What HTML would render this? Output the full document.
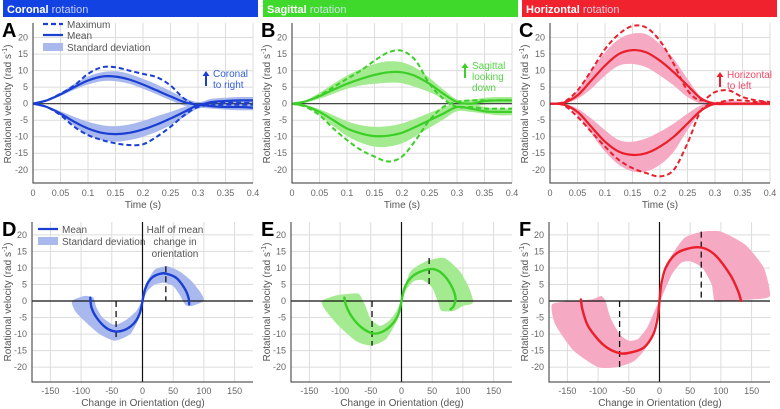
<!DOCTYPE html>
<html><head><meta charset="utf-8"><style>
body{margin:0;background:#fff}
svg{display:block;font-family:"Liberation Sans",sans-serif}
</style></head><body>
<svg id="fig" width="780" height="409" viewBox="0 0 780 409" xmlns="http://www.w3.org/2000/svg"></svg>
<script>
const T=[0,.025,.05,.075,.1,.125,.15,.175,.2,.225,.25,.275,.3,.325,.35,.375,.4];
// Coronal
const A_meanPos=[0,1,2.8,5,7,8.2,8.2,7.3,5.8,4,2.2,.5,-.3,.5,.8,1,1];
const A_maxPos=[0,1,3,5.5,9,11,11,10,9,8,5.5,1.5,-.5,0,.3,.3,.3];
const A_sdPosU=[0,1.2,3.3,6,8.2,9.5,9.8,9,7.5,5.8,3.8,1.8,.5,1.5,1.8,2,2];
const A_sdPosL=[0,.8,2.3,4.2,5.8,6.8,6.8,6,4.5,2.8,1,-.6,-1,-.5,-.2,0,0];
const A_meanNeg=[0,-1,-3,-5.5,-7.5,-8.8,-9.2,-8.8,-7.8,-6.3,-4.5,-2.5,-.5,-.8,-1,-1,-1.2];
const A_maxNeg=[0,-1,-3.5,-7,-9.5,-11,-12,-12.5,-12.3,-10,-7,-3.5,-1,-.5,-.3,-.3,-.3];
const A_sdNegU=[0,-.8,-2.3,-4,-5.5,-6.5,-6.8,-6.3,-5.2,-3.8,-2.5,-1,.3,0,0,0,0];
const A_sdNegL=[0,-1.2,-3.6,-6.8,-9.5,-11,-11.5,-11,-10,-8.5,-6.5,-4,-1.5,-1.5,-1.8,-2,-2];
// Sagittal
const B_meanPos=[0,.7,2.3,4.2,6,7.5,8.7,9.5,9.5,8.3,6,3,.5,0,.8,1,1];
const B_maxPos=[0,.7,2.5,5,7.5,10,13,15.5,16,13,6,1.5,-1,-1,-1.5,-1.5,-1.5];
const B_sdPosU=[0,1,3.3,6,8.5,10.5,12,12.8,12.5,10.8,7.8,4.3,1.3,1.2,1.8,2,2];
const B_sdPosL=[0,.4,1.5,3,4.5,5.5,6,6.3,6.2,5,3.5,1.5,-.5,-1,-.3,0,0];
const B_meanNeg=[0,-.7,-2.5,-5,-7.5,-9,-9.8,-9.7,-8.8,-7,-5,-3,-1,-1.5,-2.3,-2.5,-2.5];
const B_maxNeg=[0,-1,-3.5,-7.5,-11,-14,-16,-17.5,-16,-11,-5,-1,.5,1,1,1,1];
const B_sdNegU=[0,-.5,-1.7,-3.5,-5.3,-6.5,-7,-6.8,-6,-4.5,-2.8,-1.2,.3,0,-1,-1.5,-1.5];
const B_sdNegL=[0,-1,-3.5,-6.8,-9.8,-11.8,-13,-13,-12,-9.8,-7.3,-4.8,-2.3,-2.5,-3,-3.5,-3.5];
// Horizontal
const C_meanPos=[0,.3,2.5,7,11.5,15,16.2,15.5,13,9.5,5.5,1.5,0,0,0,0,0];
const C_maxPos=[0,.5,4,10,16.5,21,23.5,23,19,12,4,1,3.5,4,2,1,.5];
const C_sdPosU=[0,.5,4,10,15.5,19.5,21.2,21,18,13.5,7.5,2,.5,1,.5,.5,.5];
const C_sdPosL=[0,0,1.5,4.5,8.5,11.5,12,11,8.5,5.5,2,0,-.5,-.5,-.5,-.5,-.5];
const C_meanNeg=[0,-.3,-2.5,-7,-11.5,-14.5,-15.5,-15,-13,-10,-6,-2,0,0,0,0,0];
const C_maxNeg=[0,-.5,-4,-8.5,-13,-17,-19.5,-21,-22,-20,-12,-2,0,1,1,.5,.5];
const C_sdNegU=[0,0,-1.5,-4.5,-8,-11,-11.5,-10.5,-8.5,-6,-3,-.5,.5,.5,.5,.5,.5];
const C_sdNegL=[0,-.5,-3.5,-9,-14.5,-18.5,-20.5,-20.5,-18.5,-14.5,-8,-2.5,-.5,-.5,-.5,-.5,-.5];
// Phase plots (orientation deg, velocity)
const D_posX=[0,5,15,30,40,55,68,75,76], D_posY=[0,4,7,8.3,8.2,7,4,1,-1];
const D_negX=[0,-5,-15,-30,-45,-60,-75,-83,-85], D_negY=[0,-4,-7,-8.8,-9.2,-8,-5,-2,1];
const D_bandPosX=[0,5,20,40,60,80,95,100,80,70,60,50,35,20,8], D_bandPosY=[0,5,9.5,10.5,9,6,2.5,0,-1.5,-1.2,2,4.5,5.5,5,3];
const D_bandNegX=[0,-5,-20,-45,-70,-95,-110,-115,-95,-80,-75,-65,-50,-40,-25,-10], D_bandNegY=[0,-5,-10,-12,-10,-6,-3,0,1.5,1,-2,-5,-7,-7,-5.5,-3];
const D_half=[38,-43], D_halfTop=[10.5,0], D_halfBot=[0,-12];
const E_posX=[0,5,15,30,50,65,80,88,85,80], E_posY=[0,4,7,8.8,9.7,8.5,5,1,-1.5,-2.5];
const E_negX=[0,-5,-15,-30,-47,-65,-80,-90,-93], E_negY=[0,-4,-7,-9.2,-9.8,-8,-5,-1.5,1];
const E_bandPosX=[0,3,15,40,70,95,110,117,113,100,85,65,60,50,35,20,8], E_bandPosY=[0,3,9,12,13,9,4,0,-1,-1.5,-3,-3,-.5,4,6.3,6,3.5];
const E_bandNegX=[0,-5,-25,-50,-75,-105,-125,-130,-110,-95,-70,-60,-50,-35,-20,-8], E_bandNegY=[0,-5,-11.5,-13.5,-12,-7,-2.5,0,1.5,2,2.2,-1,-5.5,-7.5,-6,-3];
const E_half=[45,-48], E_halfTop=[13,0], E_halfBot=[4.5,-13.5];
const F_posX=[0,3,10,25,45,68,90,115,128,133], F_posY=[0,5,10,14,15.8,16.2,14,8,3,0];
const F_negX=[0,-3,-10,-25,-45,-65,-90,-115,-125,-128], F_negY=[0,-5,-10,-14,-15.5,-15.8,-13.5,-8,-3,.5];
const F_bandPosX=[0,15,40,70,100,140,170,180,150,110,90,85,70,50,35,20,8], F_bandPosY=[0,12,19,21,21,17,10,1.5,.5,0,0,5,10,12,11.5,8,3];
const F_bandNegX=[0,-15,-40,-70,-100,-140,-170,-175,-140,-110,-95,-88,-80,-65,-50,-35,-20,-8], F_bandNegY=[0,-12,-18,-20,-20,-15,-7,-1,0,.5,1.5,0,-5,-10,-12,-11.5,-8,-3];
const F_half=[68,-65], F_halfTop=[21,0], F_halfBot=[0,-21];
const yTicks=[-20,-15,-10,-5,0,5,10,15,20];
const tTicks=[0,.05,.1,.15,.2,.25,.3,.35,.4];
const tTickLabels=["0","0.05","0.1","0.15","0.2","0.25","0.3","0.35","0.4"];
const oTicks=[-150,-100,-50,0,50,100,150];

const svg=document.getElementById('fig');
const NS='http://www.w3.org/2000/svg';
function el(tag,attrs,parent,text){const e=document.createElementNS(NS,tag);for(const k in attrs)e.setAttribute(k,attrs[k]);if(text!==undefined)e.textContent=text;(parent||svg).appendChild(e);return e;}
function smooth(pts,closed,tension){
  if(pts.length<2)return '';
  const k=tension||6;
  let d='M'+pts[0][0].toFixed(1)+','+pts[0][1].toFixed(1);
  const n=pts.length;
  const g=i=>closed?pts[(i+n)%n]:pts[Math.max(0,Math.min(n-1,i))];
  const m=closed?n:n-1;
  for(let i=0;i<m;i++){const p0=g(i-1),p1=g(i),p2=g(i+1),p3=g(i+2);
    const c1=[p1[0]+(p2[0]-p0[0])/k,p1[1]+(p2[1]-p0[1])/k],c2=[p2[0]-(p3[0]-p1[0])/k,p2[1]-(p3[1]-p1[1])/k];
    d+='C'+c1.map(v=>v.toFixed(1))+' '+c2.map(v=>v.toFixed(1))+' '+p2.map(v=>v.toFixed(1));}
  return d+(closed?'Z':'');
}
const COL=[{line:'#1a3fd2',band:'#a9b9ee',hdr:'#1342e3',name:'Coronal',txt:['Coronal','to right'],txtc:'#3560dd'},
 {line:'#3ccf28',band:'#a3ea90',hdr:'#3fd92b',name:'Sagittal',txt:['Sagittal','looking','down'],txtc:'#55d444'},
 {line:'#ea1f2c',band:'#f5a9c2',hdr:'#f0222e',name:'Horizontal',txt:['Horizontal','to left'],txtc:'#ef4a6a'}];
const OX=[0,259,517];
const TOP={x0:33,x1:253,y0:23,y1:183,ymin:-24,ymax:24.4};
const BOT={x0:32,x1:253,y0:222,y1:382,ymin:-24.5,ymax:23.9,xmin:-180,xmax:180};
const topData=[[A_meanPos,A_maxPos,A_sdPosU,A_sdPosL,A_meanNeg,A_maxNeg,A_sdNegU,A_sdNegL],
 [B_meanPos,B_maxPos,B_sdPosU,B_sdPosL,B_meanNeg,B_maxNeg,B_sdNegU,B_sdNegL],
 [C_meanPos,C_maxPos,C_sdPosU,C_sdPosL,C_meanNeg,C_maxNeg,C_sdNegU,C_sdNegL]];
const botData=[[D_posX,D_posY,D_negX,D_negY,D_bandPosX,D_bandPosY,D_bandNegX,D_bandNegY,D_half,D_halfTop,D_halfBot],
 [E_posX,E_posY,E_negX,E_negY,E_bandPosX,E_bandPosY,E_bandNegX,E_bandNegY,E_half,E_halfTop,E_halfBot],
 [F_posX,F_posY,F_negX,F_negY,F_bandPosX,F_bandPosY,F_bandNegX,F_bandNegY,F_half,F_halfTop,F_halfBot]];
const letters=[['A','D'],['B','E'],['C','F']];

for(let p=0;p<3;p++){
  const o=OX[p],c=COL[p];
  const hx=[3,263,522][p];
  const h=el('rect',{x:hx,y:0,width:255,height:17,fill:c.hdr},svg);
  
  
  const ht=el('text',{x:hx+4,y:13,'font-size':'11',fill:'#fff'},svg);
  
  
  el('tspan',{'font-weight':'bold'},ht,c.name);el('tspan',{fill:'#dfe6ff','fill-opacity':'0.85'},ht,' rotation');

  // ---- top panel
  const g=el('g',{},svg);
  
  
  const X=t=>o+TOP.x0+(t-0)/0.4*(TOP.x1-TOP.x0);
  const Y=v=>TOP.y0+(TOP.ymax-v)/(TOP.ymax-TOP.ymin)*(TOP.y1-TOP.y0);
  tTicks.forEach((t,i)=>{el('line',{x1:X(t),x2:X(t),y1:TOP.y0,y2:TOP.y1,stroke:'#dcdcdc','stroke-width':1},g);
    const l=el('text',{x:X(t),y:TOP.y1+13,'font-size':'9','text-anchor':'middle',fill:'#666'},g,tTickLabels[i]);
    });
  yTicks.forEach(v=>{el('line',{x1:o+TOP.x0,x2:o+TOP.x1,y1:Y(v),y2:Y(v),stroke:'#dcdcdc','stroke-width':1},g);
    const l=el('text',{x:o+TOP.x0-5,y:Y(v)+3,'font-size':'9','text-anchor':'end',fill:'#666'},g,String(v));
    });
  const d=topData[p];
  const series=(arr)=>T.map((t,i)=>[X(t),Y(arr[i])]);
  [[d[2],d[3]],[d[6],d[7]]].forEach(([u,l])=>{
    const up=series(u),lo=series(l).reverse();
    const b=el('path',{d:smooth(up,false)+' L'+smooth(lo,false).slice(1)+'Z',fill:c.band,stroke:'none'},g);
    });
  el('line',{x1:o+TOP.x0,x2:o+TOP.x1,y1:Y(0),y2:Y(0),stroke:'#444','stroke-width':1.2},g);
  [d[1],d[5]].forEach(a=>{const s=el('path',{d:smooth(series(a),false),fill:'none',stroke:c.line,'stroke-width':2,'stroke-dasharray':'5,3'},g);
    });
  [d[0],d[4]].forEach(a=>{const s=el('path',{d:smooth(series(a),false),fill:'none',stroke:c.line,'stroke-width':2.2},g);
    });
  el('path',{d:`M${o+TOP.x0},${TOP.y0}V${TOP.y1}H${o+TOP.x1}`,fill:'none',stroke:'#333','stroke-width':1},g);
  const xl=el('text',{x:o+143,y:208,'font-size':'10','text-anchor':'middle',fill:'#555'},g,'Time (s)');
  
  const yl=el('text',{transform:`translate(${o+11},104) rotate(-90)`,'font-size':'10','text-anchor':'middle',fill:'#555'},g);
  
  el('tspan',{},yl,'Rotational velocity (rad s');el('tspan',{dy:-4,'font-size':'7'},yl,'-1');el('tspan',{dy:4},yl,')');
  const L=el('text',{x:o+2,y:37,'font-size':'20','font-weight':'bold',fill:'#000'},g,letters[p][0]);
  
  // direction annotation
  const ax=o+[205,205,202][p],ay=[86,78,87][p];
  el('path',{d:`M${ax},${ay} v-10 h-2.5 l3.5,-5 l3.5,5 h-2.5 v10z`,fill:c.line},g);
  c.txt.forEach((s,i)=>{const t=el('text',{x:ax+8,y:ay-9+i*11,'font-size':'10',fill:c.txtc},g,s);
    });

  // ---- bottom panel
  const gb=el('g',{},svg);
  
  
  const BX=v=>o+BOT.x0+(v-BOT.xmin)/(BOT.xmax-BOT.xmin)*(BOT.x1-BOT.x0);
  const BY=v=>BOT.y0+(BOT.ymax-v)/(BOT.ymax-BOT.ymin)*(BOT.y1-BOT.y0);
  oTicks.forEach(v=>{el('line',{x1:BX(v),x2:BX(v),y1:BOT.y0,y2:BOT.y1,stroke:'#dcdcdc'},gb);
    const l=el('text',{x:BX(v),y:BOT.y1+12,'font-size':'9','text-anchor':'middle',fill:'#666'},gb,String(v));
    });
  yTicks.forEach(v=>{el('line',{x1:o+BOT.x0,x2:o+BOT.x1,y1:BY(v),y2:BY(v),stroke:'#dcdcdc'},gb);
    const l=el('text',{x:o+BOT.x0-5,y:BY(v)+3,'font-size':'9','text-anchor':'end',fill:'#666'},gb,String(v));
    });
  const b=botData[p];
  const pts=(xs,ys)=>xs.map((x,i)=>[BX(x),BY(ys[i])]);
  [[b[4],b[5]],[b[6],b[7]]].forEach(([xs,ys])=>{const s=el('path',{d:smooth(pts(xs,ys),true,10),fill:c.band},gb);
    });
  el('line',{x1:o+BOT.x0,x2:o+BOT.x1,y1:BY(0),y2:BY(0),stroke:'#111','stroke-width':1.2},gb);
  el('line',{x1:BX(0),x2:BX(0),y1:BOT.y0,y2:BOT.y1,stroke:'#111','stroke-width':1.2},gb);
  b[8].forEach((hx2,i)=>{const s=el('line',{x1:BX(hx2),x2:BX(hx2),y1:BY(b[9][i]),y2:BY(b[10][i]),stroke:'#111','stroke-width':1.3,'stroke-dasharray':'6,4'},gb);
    });
  [[b[0],b[1]],[b[2],b[3]]].forEach(([xs,ys])=>{const s=el('path',{d:smooth(pts(xs,ys),false),fill:'none',stroke:c.line,'stroke-width':2.4,'stroke-linecap':'round'},gb);
    });
  el('path',{d:`M${o+BOT.x0},${BOT.y0}V${BOT.y1}H${o+BOT.x1}`,fill:'none',stroke:'#333'},gb);
  const bx=el('text',{x:o+143,y:406,'font-size':'10','text-anchor':'middle',fill:'#555'},gb,'Change in Orientation (deg)');
  
  const by=el('text',{transform:`translate(${o+11},302) rotate(-90)`,'font-size':'10','text-anchor':'middle',fill:'#555'},gb);
  
  el('tspan',{},by,'Rotational velocity (rad s');el('tspan',{dy:-4,'font-size':'7'},by,'-1');el('tspan',{dy:4},by,')');
  const LB=el('text',{x:o+2,y:236,'font-size':'20','font-weight':'bold',fill:'#000'},gb,letters[p][1]);
  
}
// Legends panel A
const lg=el('g',{},svg);

el('line',{x1:43,x2:63,y1:24,y2:24,stroke:'#1a3fd2','stroke-width':2.2,'stroke-dasharray':'5,3'},lg);
el('text',{x:67,y:28,'font-size':'10',fill:'#555'},lg,'Maximum');
el('line',{x1:43,x2:63,y1:35,y2:35,stroke:'#1a3fd2','stroke-width':2.2},lg);
el('text',{x:67,y:39,'font-size':'10',fill:'#555'},lg,'Mean');
el('rect',{x:43,y:43,width:20,height:8,fill:'#a9b9ee'},lg);
el('text',{x:67,y:51,'font-size':'10',fill:'#555'},lg,'Standard deviation');
const lg2=el('g',{},svg);

el('line',{x1:38,x2:58,y1:229,y2:229,stroke:'#1a3fd2','stroke-width':2.2},lg2);
el('text',{x:62,y:233,'font-size':'10',fill:'#555'},lg2,'Mean');
el('rect',{x:38,y:237,width:20,height:8,fill:'#a9b9ee'},lg2);
el('text',{x:62,y:245,'font-size':'10',fill:'#555'},lg2,'Standard deviation');
['Half of mean','change in','orientation'].forEach((s,i)=>{const t=el('text',{x:175,y:233+i*12,'font-size':'10','text-anchor':'middle',fill:'#555'},svg,s);
  });
</script>
</body></html>
